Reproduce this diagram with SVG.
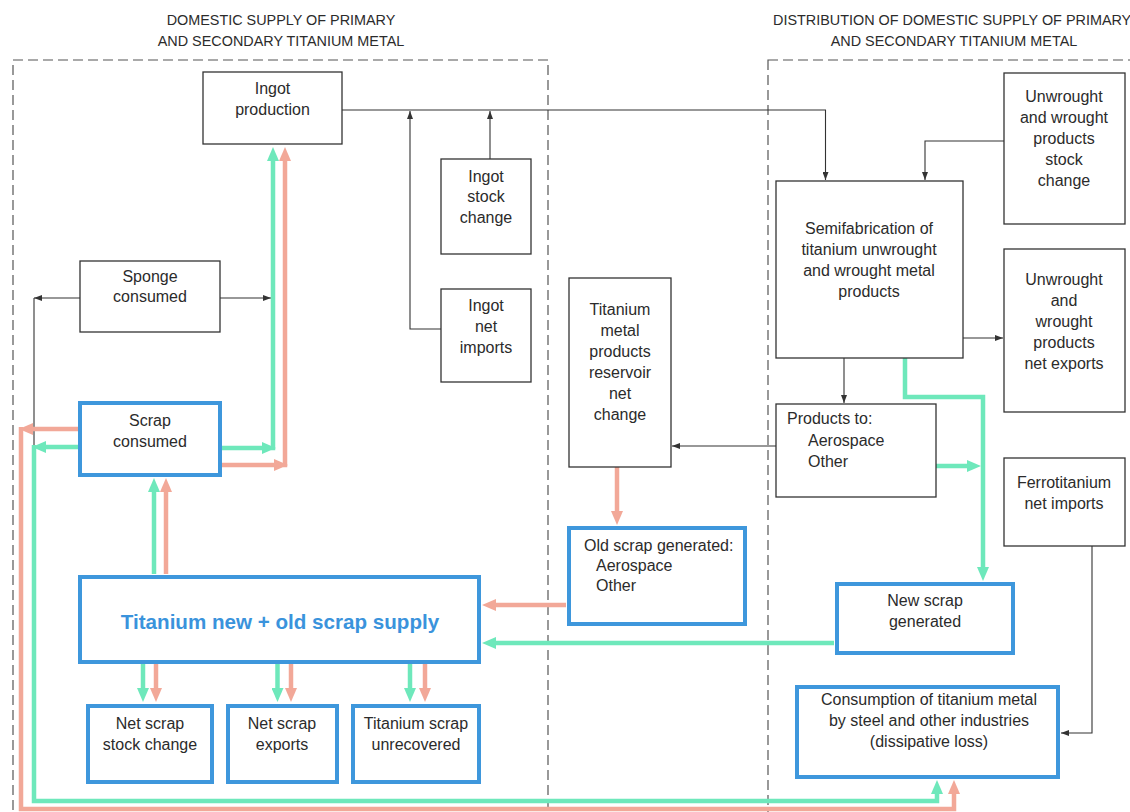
<svg xmlns="http://www.w3.org/2000/svg" width="1130" height="812" viewBox="0 0 1130 812">
<style>
  .t { font-family: "Liberation Sans", Arial, sans-serif; font-size: 16px; fill: #2b2b2b; }
  .m { text-anchor: middle; }
  .title { font-family: "Liberation Sans", Arial, sans-serif; font-size: 14.4px; fill: #2b2b2b; }
  .big { font-family: "Liberation Sans", Arial, sans-serif; font-size: 20.6px; font-weight: bold; fill: #3a93dc; text-anchor: middle; }
  .box { fill: #fff; stroke: #333; stroke-width: 1.3; }
  .bbox { fill: #fff; stroke: #3e97dc; stroke-width: 4; }
  .dash { fill: none; stroke: #555; stroke-width: 1.2; stroke-dasharray: 10 5; }
  .k { fill: none; stroke: #333; stroke-width: 1.1; }
  .ka { fill: none; stroke: #333; stroke-width: 1.1; marker-end: url(#ak); }
  .g { fill: none; stroke: #6ee8bb; stroke-width: 4.5; marker-end: url(#ag); }
  .r { fill: none; stroke: #f2a898; stroke-width: 4.5; marker-end: url(#ar); }
</style>
<defs>
  <marker id="ak" markerUnits="userSpaceOnUse" viewBox="0 0 8 6" markerWidth="8" markerHeight="6" refX="8" refY="3" orient="auto">
    <path d="M0,0 L8,3 L0,6 z" fill="#333"/>
  </marker>
  <marker id="ag" markerUnits="userSpaceOnUse" viewBox="0 0 14 12" markerWidth="14" markerHeight="12" refX="6" refY="6" orient="auto">
    <path d="M0,0 L14,6 L0,12 z" fill="#6ee8bb"/>
  </marker>
  <marker id="ar" markerUnits="userSpaceOnUse" viewBox="0 0 14 12" markerWidth="14" markerHeight="12" refX="6" refY="6" orient="auto">
    <path d="M0,0 L14,6 L0,12 z" fill="#f2a898"/>
  </marker>
</defs>
<rect width="1130" height="812" fill="#fff"/>

<!-- section frames and titles -->
<g id="sections">
  <rect class="dash" x="13" y="60" width="535" height="800"/>
  <rect class="dash" x="768" y="60" width="420" height="800"/>
  <text class="title m" x="281" y="25">DOMESTIC SUPPLY OF PRIMARY</text>
  <text class="title m" x="281" y="46">AND SECONDARY TITANIUM METAL</text>
  <text class="title" x="773" y="25">DISTRIBUTION OF DOMESTIC SUPPLY OF PRIMARY</text>
  <text class="title m" x="954" y="46">AND SECONDARY TITANIUM METAL</text>
</g>

<!-- connectors -->
<g id="connectors">
  <!-- black -->
  <path class="ka" d="M342,110 H825.5 V180"/>
  <path class="ka" d="M441,329 H410 V111"/>
  <path class="ka" d="M490,159 V111"/>
  <path class="ka" d="M80,298 H34"/>
  <path class="k" d="M34,298 V445"/>
  <path class="ka" d="M220,298 H271"/>
  <path class="ka" d="M1004,141 H925 V180"/>
  <path class="ka" d="M963,338 H1003"/>
  <path class="ka" d="M844,358 V403"/>
  <path class="ka" d="M776,446 H672"/>
  <path class="ka" d="M1092,546 V733 H1061"/>

  <!-- scrap consumed to ingot production -->
  <path class="g" d="M222,448 H268"/>
  <path class="g" d="M273,450.2 V155"/>
  <path class="r" d="M222,465 H280"/>
  <path class="r" d="M285,467.2 V155"/>

  <!-- scrap consumed to dissipative loss -->
  <path class="r" d="M78,429 H27"/>
  <path class="r" d="M21,427 V809 H954 V788"/>
  <path class="g" d="M78,447 H40"/>
  <path class="g" d="M34,445 V801 H937 V788"/>

  <!-- supply to scrap consumed -->
  <path class="g" d="M154,574 V486"/>
  <path class="r" d="M166,574 V486"/>

  <!-- supply to bottom boxes -->
  <path class="g" d="M143,664 V694"/>
  <path class="r" d="M156,664 V694"/>
  <path class="g" d="M277.5,664 V694"/>
  <path class="r" d="M291,664 V694"/>
  <path class="g" d="M410,664 V694"/>
  <path class="r" d="M425,664 V694"/>

  <!-- old / new scrap into supply -->
  <path class="r" d="M566,605 H490"/>
  <path class="g" d="M834,643 H490"/>

  <!-- reservoir to old scrap -->
  <path class="r" d="M617,467 V517"/>

  <!-- semifab / products to new scrap -->
  <path class="g" d="M905,358 V397 H983 V573"/>
  <path class="g" d="M936,466 H973"/>
</g>

<!-- nodes -->
<g id="ingot-production">
  <rect class="box" x="203" y="72" width="139" height="72"/>
  <text class="t m" x="272.5" y="94">Ingot</text>
  <text class="t m" x="272.5" y="115">production</text>
</g>
<g id="ingot-stock-change">
  <rect class="box" x="441" y="159" width="90" height="95"/>
  <text class="t m" x="486" y="182">Ingot</text>
  <text class="t m" x="486" y="202">stock</text>
  <text class="t m" x="486" y="223">change</text>
</g>
<g id="ingot-net-imports">
  <rect class="box" x="441" y="289" width="90" height="93"/>
  <text class="t m" x="486" y="311">Ingot</text>
  <text class="t m" x="486" y="332">net</text>
  <text class="t m" x="486" y="353">imports</text>
</g>
<g id="sponge-consumed">
  <rect class="box" x="80" y="261" width="140" height="71"/>
  <text class="t m" x="150" y="282">Sponge</text>
  <text class="t m" x="150" y="302">consumed</text>
</g>
<g id="scrap-consumed">
  <rect class="bbox" x="80" y="403" width="140" height="72"/>
  <text class="t m" x="150" y="426">Scrap</text>
  <text class="t m" x="150" y="447">consumed</text>
</g>
<g id="scrap-supply">
  <rect class="bbox" x="80" y="577" width="399" height="85"/>
  <text class="big" x="280" y="629">Titanium new + old scrap supply</text>
</g>
<g id="net-scrap-stock-change">
  <rect class="bbox" x="88" y="706" width="124" height="76"/>
  <text class="t m" x="150" y="729">Net scrap</text>
  <text class="t m" x="150" y="750">stock change</text>
</g>
<g id="net-scrap-exports">
  <rect class="bbox" x="228" y="706" width="109" height="76"/>
  <text class="t m" x="282" y="729">Net scrap</text>
  <text class="t m" x="282" y="750">exports</text>
</g>
<g id="titanium-scrap-unrecovered">
  <rect class="bbox" x="353" y="706" width="126" height="76"/>
  <text class="t m" x="416" y="729">Titanium scrap</text>
  <text class="t m" x="416" y="750">unrecovered</text>
</g>
<g id="reservoir">
  <rect class="box" x="569" y="278" width="102" height="189"/>
  <text class="t m" x="620" y="315">Titanium</text>
  <text class="t m" x="620" y="336">metal</text>
  <text class="t m" x="620" y="357">products</text>
  <text class="t m" x="620" y="378">reservoir</text>
  <text class="t m" x="620" y="399">net</text>
  <text class="t m" x="620" y="420">change</text>
</g>
<g id="old-scrap">
  <rect class="bbox" x="569" y="528" width="176" height="96"/>
  <text class="t" x="584" y="551">Old scrap generated:</text>
  <text class="t" x="596" y="571">Aerospace</text>
  <text class="t" x="596" y="591">Other</text>
</g>
<g id="semifabrication">
  <rect class="box" x="776" y="181" width="187" height="177"/>
  <text class="t m" x="869" y="234">Semifabrication of</text>
  <text class="t m" x="869" y="255">titanium unwrought</text>
  <text class="t m" x="869" y="276">and wrought metal</text>
  <text class="t m" x="869" y="297">products</text>
</g>
<g id="unwrought-stock-change">
  <rect class="box" x="1004" y="73" width="121" height="151"/>
  <text class="t m" x="1064" y="102">Unwrought</text>
  <text class="t m" x="1064" y="123">and wrought</text>
  <text class="t m" x="1064" y="144">products</text>
  <text class="t m" x="1064" y="165">stock</text>
  <text class="t m" x="1064" y="186">change</text>
</g>
<g id="unwrought-net-exports">
  <rect class="box" x="1004" y="249" width="121" height="163"/>
  <text class="t m" x="1064" y="285">Unwrought</text>
  <text class="t m" x="1064" y="306">and</text>
  <text class="t m" x="1064" y="327">wrought</text>
  <text class="t m" x="1064" y="348">products</text>
  <text class="t m" x="1064" y="369">net exports</text>
</g>
<g id="products-to">
  <rect class="box" x="776" y="404" width="160" height="93"/>
  <text class="t" x="787" y="424">Products to:</text>
  <text class="t" x="808" y="446">Aerospace</text>
  <text class="t" x="808" y="467">Other</text>
</g>
<g id="ferrotitanium">
  <rect class="box" x="1004" y="458" width="121" height="88"/>
  <text class="t m" x="1064" y="488">Ferrotitanium</text>
  <text class="t m" x="1064" y="509">net imports</text>
</g>
<g id="new-scrap">
  <rect class="bbox" x="837" y="584" width="176" height="69"/>
  <text class="t m" x="925" y="606">New scrap</text>
  <text class="t m" x="925" y="627">generated</text>
</g>
<g id="consumption">
  <rect class="bbox" x="797" y="687" width="261" height="90"/>
  <text class="t m" x="929" y="705">Consumption of titanium metal</text>
  <text class="t m" x="929" y="726">by steel and other industries</text>
  <text class="t m" x="929" y="747">(dissipative loss)</text>
</g>
</svg>
